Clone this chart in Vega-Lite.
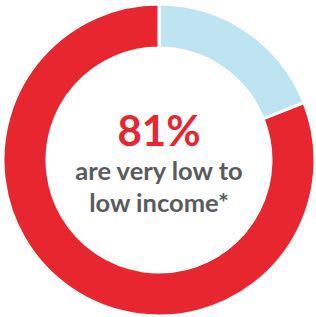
{
  "$schema": "https://vega.github.io/schema/vega-lite/v6.json",
  "width": 316,
  "height": 317,
  "autosize": {"type": "fit", "contains": "padding"},
  "padding": {"left": 2, "top": 3, "right": 0, "bottom": 0},
  "background": "white",
  "config": {"view": {"stroke": null}},
  "datasets": {
    "shares": [
      {"category": "Other", "value": 19, "order": 1},
      {"category": "Very low to low income", "value": 81, "order": 2}
    ],
    "labels": [
      {"text": "81%"}
    ],
    "sub": [
      {"line": "are very low to", "row": 1},
      {"line": "low income*", "row": 2}
    ]
  },
  "layer": [
    {
      "data": {"name": "shares"},
      "mark": {"type": "arc", "outerRadius": 156, "innerRadius": 112, "stroke": "white", "strokeWidth": 3},
      "encoding": {
        "theta": {"field": "value", "type": "quantitative", "stack": true},
        "order": {"field": "order", "type": "quantitative"},
        "color": {
          "field": "category",
          "type": "nominal",
          "scale": {"domain": ["Other", "Very low to low income"], "range": ["#bde4f0", "#e8262f"]},
          "legend": null
        }
      }
    },
    {
      "data": {"name": "labels"},
      "mark": {"type": "text", "font": "Lato", "fontWeight": "bold", "fontSize": 42, "color": "#e8262f", "dy": -27, "baseline": "middle", "align": "center"},
      "encoding": {"text": {"field": "text", "type": "nominal"}}
    },
    {
      "data": {"name": "sub"},
      "transform": [{"filter": "datum.row == 1"}],
      "mark": {"type": "text", "font": "Lato", "fontWeight": "bold", "fontSize": 25.5, "color": "#5b5b5f", "dy": 12, "baseline": "middle", "align": "center"},
      "encoding": {"text": {"field": "line", "type": "nominal"}}
    },
    {
      "data": {"name": "sub"},
      "transform": [{"filter": "datum.row == 2"}],
      "mark": {"type": "text", "font": "Lato", "fontWeight": "bold", "fontSize": 25.5, "color": "#5b5b5f", "dy": 44, "baseline": "middle", "align": "center"},
      "encoding": {"text": {"field": "line", "type": "nominal"}}
    }
  ]
}
